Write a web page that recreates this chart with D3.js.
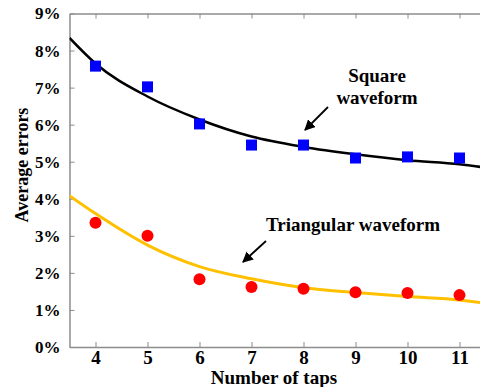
<!DOCTYPE html>
<html>
<head>
<meta charset="utf-8">
<script src="https://cdn.jsdelivr.net/npm/d3@7"></script>
<style>
  body { margin: 0; background: #fff; }
  text { font-family: "Liberation Serif", "Times New Roman", serif; font-weight: bold; }
</style>
</head>
<body>
<div id="chart"></div>
<script>
const taps = [4, 5, 6, 7, 8, 9, 10, 11];
const squareErr = [7.58, 7.02, 6.02, 5.45, 5.45, 5.1, 5.13, 5.1];
const triangleErr = [3.35, 3.0, 1.83, 1.62, 1.57, 1.48, 1.46, 1.4];

// fitted curves
const fitX = [3.5, 4, 5, 6, 7, 8, 9, 10, 11, 11.4];
const squareFit = [8.34, 7.65, 6.76, 6.14, 5.68, 5.4, 5.2, 5.04, 4.93, 4.86];
const triangleFit = [4.08, 3.6, 2.75, 2.17, 1.84, 1.6, 1.47, 1.36, 1.27, 1.2];

const yTicks = [0, 1, 2, 3, 4, 5, 6, 7, 8, 9];

const svg = d3.select("#chart").append("svg")
  .attr("width", 480)
  .attr("height", 387);

const x = d3.scaleLinear().domain([3.5, 11.5]).range([69.5, 485.5]);
const y = d3.scaleLinear().domain([0, 9]).range([347, 13.5]);

const axisColor = "#8c8c8c";

// bottom axis, ticks pointing inward
const xAxis = svg.append("g")
  .attr("transform", `translate(0,${y(0)})`)
  .call(d3.axisBottom(x).tickValues(taps).tickSizeInner(-5).tickSizeOuter(0).tickPadding(4));
// top border
const xTop = svg.append("g")
  .attr("transform", `translate(0,${y(9)})`)
  .call(d3.axisTop(x).tickValues(taps).tickSizeInner(-5).tickSizeOuter(0).tickFormat(""));
const yAxis = svg.append("g")
  .attr("transform", `translate(${x(3.5)},0)`)
  .call(d3.axisLeft(y).tickValues(yTicks).tickSizeInner(-5).tickSizeOuter(0).tickPadding(9)
    .tickFormat(d => d + "%"));

[xAxis, xTop, yAxis].forEach(a => {
  a.select(".domain").attr("stroke", axisColor).attr("stroke-width", 1.5);
  a.selectAll(".tick line").attr("stroke", axisColor).attr("stroke-width", 1);
});
xAxis.selectAll(".tick text").style("font-size", "19px").attr("fill", "#000");
yAxis.selectAll(".tick text").style("font-size", "17px").attr("fill", "#000");

svg.append("text")
  .attr("x", 274).attr("y", 384)
  .attr("text-anchor", "middle")
  .style("font-size", "19px")
  .text("Number of taps");

svg.append("text")
  .attr("transform", "rotate(-90)")
  .attr("x", -165).attr("y", 28)
  .attr("text-anchor", "middle")
  .style("font-size", "18px")
  .text("Average errors");

svg.append("defs").append("clipPath").attr("id", "plot-clip")
  .append("rect").attr("x", x(3.5)).attr("y", y(9)).attr("width", 420).attr("height", y(0) - y(9));

const line = d3.line().curve(d3.curveMonotoneX);
const plot = svg.append("g").attr("clip-path", "url(#plot-clip)");

plot.append("path")
  .attr("d", line(fitX.map((d, i) => [x(d), y(squareFit[i])])))
  .attr("fill", "none").attr("stroke", "#000").attr("stroke-width", 2.5);

plot.append("path")
  .attr("d", line(fitX.map((d, i) => [x(d), y(triangleFit[i])])))
  .attr("fill", "none").attr("stroke", "#ffc000").attr("stroke-width", 3);

svg.selectAll(".sq").data(taps).enter().append("rect")
  .attr("class", "sq")
  .attr("x", (d) => x(d) - 5.5)
  .attr("y", (d, i) => y(squareErr[i]) - 5.5)
  .attr("width", 11).attr("height", 11)
  .attr("fill", "#0000ff");

svg.selectAll(".tri").data(taps).enter().append("circle")
  .attr("class", "tri")
  .attr("cx", d => x(d))
  .attr("cy", (d, i) => y(triangleErr[i]))
  .attr("r", 6)
  .attr("fill", "#ff0000");

// annotations
svg.append("defs").append("marker")
  .attr("id", "arrow").attr("viewBox", "0 0 10 10")
  .attr("refX", 9).attr("refY", 5)
  .attr("markerWidth", 6).attr("markerHeight", 6)
  .attr("orient", "auto")
  .append("path").attr("d", "M0,0 L10,5 L0,10 z").attr("fill", "#000");

svg.append("text").attr("x", 377).attr("y", 82).attr("text-anchor", "middle")
  .style("font-size", "19px").text("Square");
svg.append("text").attr("x", 377).attr("y", 104).attr("text-anchor", "middle")
  .style("font-size", "19px").text("waveform");
svg.append("line").attr("x1", 328).attr("y1", 107).attr("x2", 305).attr("y2", 130)
  .attr("stroke", "#000").attr("stroke-width", 1.8).attr("marker-end", "url(#arrow)");

svg.append("text").attr("x", 353).attr("y", 231).attr("text-anchor", "middle")
  .style("font-size", "19px").text("Triangular waveform");
svg.append("line").attr("x1", 266).attr("y1", 241).attr("x2", 243).attr("y2", 262)
  .attr("stroke", "#000").attr("stroke-width", 1.8).attr("marker-end", "url(#arrow)");
</script>
</body>
</html>
